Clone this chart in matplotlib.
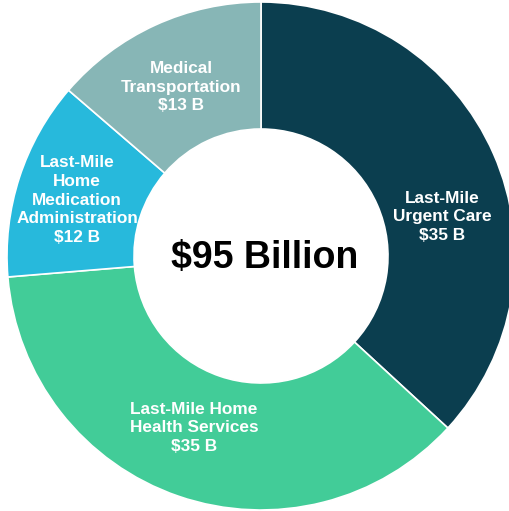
import matplotlib.pyplot as plt

# market segments, clockwise from 12 o'clock
segments = ["Last-Mile\nUrgent Care", "Last-Mile Home\nHealth Services",
            "Last-Mile\nHome\nMedication\nAdministration", "Medical\nTransportation"]
values = [35, 35, 12, 13]
colors = ["#0b3e4f", "#42cc98", "#27b9dc", "#87b6b6"]
total_label = "$95 Billion"

# label centres (data units, radius 1 = outer ring)
label_pos = [(0.713, 0.154), (-0.264, -0.677), (-0.724, 0.220), (-0.315, 0.665)]

fig = plt.figure(figsize=(5.09, 5.11), dpi=100)
ax = fig.add_axes([0, 0, 1, 1])

ax.pie(values, colors=colors, startangle=90, counterclock=False, radius=1.0,
       wedgeprops=dict(width=0.5, edgecolor="white", linewidth=1.2))

for name, v, (x, y) in zip(segments, values, label_pos):
    ax.text(x, y, name + "\n$" + str(v) + " B", ha="center", va="center",
            color="white", fontsize=12.4, fontweight="bold",
            family="Liberation Sans", linespacing=1.3)

ax.text(0.016, -0.008, total_label, ha="center", va="center", color="black",
        fontsize=27, fontweight="bold", family="Liberation Sans")

ax.set_xlim(-261 / 254, 248 / 254)
ax.set_ylim(-255 / 254, 256 / 254)
ax.axis("off")

fig.savefig("out.png", dpi=100, facecolor="white")
